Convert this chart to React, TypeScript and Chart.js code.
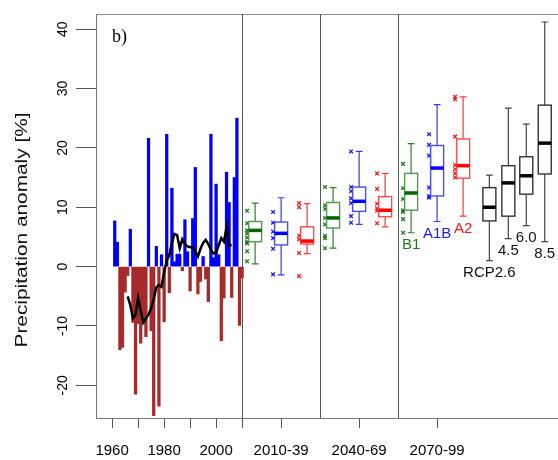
import React, { useEffect, useRef } from 'react';
import { Chart, registerables } from 'chart.js';

Chart.register(...registerables);

// ---------- data ----------
const years = [
  1961, 1962, 1963, 1964, 1965, 1966, 1967, 1968, 1969, 1970,
  1971, 1972, 1973, 1974, 1975, 1976, 1977, 1978, 1979, 1980,
  1981, 1982, 1983, 1984, 1985, 1986, 1987, 1988, 1989, 1990,
  1991, 1992, 1993, 1994, 1995, 1996, 1997, 1998, 1999, 2000,
  2001, 2002, 2003, 2004, 2005, 2006, 2007, 2008, 2009, 2010,
];
const anomaly = [
  7.7, 4.1, -14.0, -13.6, -4.3, -1.5, 6.3, -9.4, -21.5, -9.6,
  -12.9, -9.6, -11.8, 21.6, -10.8, -25.1, 3.4, -23.5, 2.0, -9.3,
  22.3, -4.4, 13.2, 0.8, 2.1, 2.1, -0.7, 7.9, 2.5, -4.1,
  8.1, 16.7, -4.6, -2.5, 1.7, -2.1, -5.9, 22.3, 1.5, 13.9,
  2.0, -12.5, -5.3, 15.9, 10.8, -5.2, 15.0, 25.0, -9.9, -1.9,
];
const meanYears = [
  1966, 1967, 1968, 1969, 1970, 1971, 1972, 1973, 1974, 1975,
  1976, 1977, 1978, 1979, 1980, 1981, 1982, 1983, 1984, 1985,
  1986, 1987, 1988, 1989, 1990, 1991, 1992, 1993, 1994, 1995,
  1996, 1997, 1998, 1999, 2000, 2001, 2002, 2003, 2004, 2005, 2006,
];
const runningMean = [
  -5.0, -6.5, -8.7, -8.1, -5.3, -7.5, -9.4, -8.7, -8.1, -7.0,
  -5.5, -3.5, -3.1, -3.4, -1.0, 1.0, 2.0, 4.0, 5.5, 5.3,
  3.1, 4.6, 3.8, 3.4, 3.3, 3.1, 2.6, 1.7, 3.0, 4.0,
  4.5, 3.8, 2.8, 2.2, 2.4, 3.6, 4.8, 4.2, 6.6, 3.6, 3.6,
];

const periods = ['2010-39', '2040-69', '2070-99'];
const periodCenters = [2025, 2055, 2085];
const periodBounds = [2010, 2040, 2070];

const histTickYears = [1960, 1970, 1980, 1990, 2000, 2010];
const histTickLabels = ['1960', '', '1980', '', '2000', ''];
const yTicks = [-20, -10, 0, 10, 20, 30, 40];

const scenarios = ['B1', 'A1B', 'A2'];
// [lower whisker, q1, median, q3, upper whisker] per period
const b1Stats = [
  [0.45, 4.2, 6.1, 7.6, 10.7],
  [3.1, 6.5, 8.2, 10.8, 13.3],
  [5.7, 9.5, 12.4, 15.7, 20.7],
];
const a1bStats = [
  [-1.4, 3.65, 5.6, 7.5, 11.6],
  [7.1, 9.3, 11.0, 13.4, 19.4],
  [7.6, 11.9, 16.6, 20.4, 27.3],
];
const a2Stats = [
  [2.2, 3.8, 4.3, 6.7, 10.6],
  [6.7, 8.4, 9.5, 11.8, 15.7],
  [8.5, 14.9, 17.0, 21.5, 28.6],
];
const b1Points = [
  [9.4, 7.3, 6.1, 5.6, 4.9, 4.2, 3.9, 2.6, 0.9],
  [13.4, 10.3, 9.7, 8.2, 7.1, 5.2, 4.8, 3.1],
  [17.3, 13.2, 11.4, 9.5, 9.2, 8.0, 5.7],
];
const a1bPoints = [
  [9.2, 7.4, 5.9, 4.8, 3.0, -1.3],
  [19.4, 13.4, 12.7, 11.5, 10.7, 8.5, 7.4],
  [22.3, 20.5, 18.7, 13.3, 11.9, 11.6],
];
const a2Points = [
  [10.7, 10.0, 5.2, 4.6, 2.3, -1.6],
  [15.7, 13.1, 10.6, 9.8, 9.4, 7.3],
  [28.6, 28.2, 21.9, 17.1, 16.4, 15.7, 15.0],
];
const rcpLabels = ['RCP2.6', '4.5', '6.0', '8.5'];
const rcpStats = [
  [1.0, 7.7, 10.0, 13.3, 15.4],
  [4.7, 8.5, 14.1, 17.0, 26.7],
  [6.9, 12.2, 15.3, 18.5, 24.0],
  [4.2, 15.6, 20.8, 27.2, 41.2],
];

// ---------- layout / style ----------
const SCEN_OFFSET = [-10, 0, 10]; // years from period centre
const RCP_OFFSET = [20.1, 27.4, 34.3, 41.4]; // years from last period centre
const BOX_HALF = 2.5;
const CAP_HALF = 1.3;
const POINT_SHIFT = -3.1;
const SCEN_STYLE = [
  { main: '#006400', box: '#4c9a4c', whisk: '#2f7f2f', pt: '#1f7a1f', label: '#1f7a1f' },
  { main: '#0000ff', box: '#4a4aff', whisk: '#3838ff', pt: '#2020ee', label: '#1a1aff' },
  { main: '#ff0000', box: '#ff4a4a', whisk: '#ff3838', pt: '#ee2020', label: '#ff1a1a' },
];
const RCP_STYLE = { main: '#000000', box: '#333333', whisk: '#444444', label: '#111111' };
const FONT = '"Liberation Sans", Arial, sans-serif';

const allStats = [b1Stats, a1bStats, a2Stats];
const allPoints = [b1Points, a1bPoints, a2Points];

function drawBox(chart: any, xv: number, s: number[], st: any) {
  const ctx = chart.ctx;
  const xs = chart.scales.x;
  const ys = chart.scales.y;
  const cx = xs.getPixelForValue(xv);
  const l = xs.getPixelForValue(xv - BOX_HALF);
  const r = xs.getPixelForValue(xv + BOX_HALF);
  const cl = xs.getPixelForValue(xv - CAP_HALF);
  const cr = xs.getPixelForValue(xv + CAP_HALF);
  const [lo, q1, med, q3, hi] = s.map((v) => ys.getPixelForValue(v));
  ctx.save();
  ctx.lineWidth = 1.2;
  ctx.strokeStyle = st.whisk;
  ctx.beginPath();
  ctx.moveTo(cx, q3);
  ctx.lineTo(cx, hi);
  ctx.moveTo(cx, q1);
  ctx.lineTo(cx, lo);
  ctx.moveTo(cl, hi);
  ctx.lineTo(cr, hi);
  ctx.moveTo(cl, lo);
  ctx.lineTo(cr, lo);
  ctx.stroke();
  ctx.fillStyle = '#ffffff';
  ctx.fillRect(l, q3, r - l, q1 - q3);
  ctx.lineWidth = 1.4;
  ctx.strokeStyle = st.box;
  ctx.strokeRect(l, q3, r - l, q1 - q3);
  ctx.lineWidth = 3.5;
  ctx.strokeStyle = st.main;
  ctx.beginPath();
  ctx.moveTo(l, med);
  ctx.lineTo(r, med);
  ctx.stroke();
  ctx.restore();
}

function drawLabel(chart: any, xv: number, lowVal: number, text: string, color: string) {
  const ctx = chart.ctx;
  const x = chart.scales.x.getPixelForValue(xv);
  const y = chart.scales.y.getPixelForValue(lowVal) + 12.5;
  ctx.save();
  ctx.font = `15px ${FONT}`;
  ctx.fillStyle = color;
  ctx.textAlign = 'center';
  ctx.textBaseline = 'middle';
  ctx.fillText(text, x, y);
  ctx.restore();
}

const decorPlugin = {
  id: 'decor',
  beforeDatasetsDraw(chart: any) {
    const { ctx, chartArea } = chart;
    const xs = chart.scales.x;
    ctx.save();
    ctx.lineWidth = 1;
    ctx.strokeStyle = '#888888';
    ctx.beginPath();
    ctx.moveTo(chartArea.left, chartArea.top + 0.5);
    ctx.lineTo(chartArea.right, chartArea.top + 0.5);
    ctx.stroke();
    ctx.strokeStyle = '#555555';
    periodBounds.forEach((b) => {
      const x = Math.round(xs.getPixelForValue(b)) + 0.5;
      ctx.beginPath();
      ctx.moveTo(x, chartArea.top);
      ctx.lineTo(x, chartArea.bottom);
      ctx.stroke();
    });
    ctx.restore();
  },
  afterDatasetsDraw(chart: any) {
    periodCenters.forEach((c, p) => {
      scenarios.forEach((name, k) => {
        drawBox(chart, c + SCEN_OFFSET[k], allStats[k][p], SCEN_STYLE[k]);
        if (p === periodCenters.length - 1) {
          drawLabel(chart, c + SCEN_OFFSET[k], allStats[k][p][0], name, SCEN_STYLE[k].label);
        }
      });
    });
    const last = periodCenters[periodCenters.length - 1];
    rcpStats.forEach((s, i) => {
      drawBox(chart, last + RCP_OFFSET[i], s, RCP_STYLE);
      drawLabel(chart, last + RCP_OFFSET[i], s[0], rcpLabels[i], RCP_STYLE.label);
    });
  },
  afterDraw(chart: any) {
    const ctx = chart.ctx;
    const ys = chart.scales.y;
    ctx.save();
    ctx.fillStyle = '#000000';
    ctx.font = `14px ${FONT}`;
    ctx.textAlign = 'center';
    ctx.textBaseline = 'middle';
    yTicks.forEach((v) => {
      const y = ys.getPixelForValue(v);
      ctx.save();
      ctx.translate(63, y);
      ctx.rotate(-Math.PI / 2);
      ctx.fillText(String(v), 0, 0);
      ctx.restore();
    });
    // axis title
    ctx.save();
    ctx.font = `16px ${FONT}`;
    ctx.fillStyle = '#111111';
    ctx.translate(23, 230);
    ctx.rotate(-Math.PI / 2);
    const w = ctx.measureText('Precipitation anomaly [%]').width;
    ctx.scale(235 / w, 1);
    ctx.fillText('Precipitation anomaly [%]', 0, 0);
    ctx.restore();
    // panel tag
    ctx.font = '18px "Liberation Serif", "DejaVu Serif", serif';
    ctx.textAlign = 'left';
    ctx.textBaseline = 'alphabetic';
    ctx.fillStyle = '#000000';
    ctx.fillText('b)', 112, 42);
    ctx.restore();
  },
};

export default function App() {
  const ref = useRef<HTMLCanvasElement | null>(null);

  useEffect(() => {
    if (!ref.current) return;
    const xTickValues = [...histTickYears, ...periodCenters];
    const xTickText = [...histTickLabels, ...periods];

    const pointSets = scenarios.map((name, k) => ({
      type: 'line' as const,
      label: name + ' members',
      showLine: false,
      order: 1,
      data: periodCenters.flatMap((c, p) =>
        allPoints[k][p].map((v) => ({ x: c + SCEN_OFFSET[k] + POINT_SHIFT, y: v }))
      ),
      pointStyle: 'crossRot',
      pointRadius: 2.6,
      pointBorderWidth: 1.3,
      borderColor: SCEN_STYLE[k].pt,
      backgroundColor: SCEN_STYLE[k].pt,
    }));

    const chart = new Chart(ref.current, {
      type: 'bar',
      data: {
        datasets: [
          {
            type: 'line',
            label: 'running mean',
            order: 0,
            data: meanYears.map((y, i) => ({ x: y, y: runningMean[i] })),
            borderColor: '#000000',
            borderWidth: 2.5,
            pointRadius: 0,
            tension: 0,
          },
          ...pointSets,
          {
            type: 'bar',
            label: 'anomaly',
            order: 2,
            data: years.map((y, i) => ({ x: y, y: anomaly[i] })),
            backgroundColor: anomaly.map((v) => (v >= 0 ? '#0000ff' : '#a52a2a')),
            barPercentage: 1,
            categoryPercentage: 1,
            borderWidth: 0,
          },
        ] as any,
      },
      options: {
        animation: false,
        responsive: false,
        devicePixelRatio: 1,
        layout: { autoPadding: false, padding: { top: 14, left: 0, right: 0, bottom: 0 } },
        plugins: { legend: { display: false }, tooltip: { enabled: false } },
        scales: {
          x: {
            type: 'linear',
            offset: false,
            min: 1953.8,
            max: 2131.5,
            afterBuildTicks: (s: any) => {
              s.ticks = xTickValues.map((v) => ({ value: v }));
            },
            afterFit: (s: any) => {
              s.height = 42;
            },
            grid: { drawOnChartArea: false, drawTicks: true, tickLength: 10, color: '#555555', offset: false },
            border: { display: true, color: '#777777' },
            ticks: {
              autoSkip: false,
              maxRotation: 0,
              minRotation: 0,
              padding: 14,
              color: '#000000',
              font: { size: 15, family: FONT },
              callback: (v: any) => {
                const i = xTickValues.indexOf(Number(v));
                return i >= 0 ? xTickText[i] : '';
              },
            },
          },
          y: {
            type: 'linear',
            min: -25.5,
            max: 42.55,
            afterBuildTicks: (s: any) => {
              s.ticks = yTicks.map((v) => ({ value: v }));
            },
            afterFit: (s: any) => {
              s.width = 96;
            },
            grid: { drawOnChartArea: false, drawTicks: true, tickLength: 20, color: '#555555' },
            border: { display: true, color: '#777777' },
            ticks: { padding: 0, callback: () => '' },
          },
        },
      } as any,
      plugins: [decorPlugin],
    });
    return () => chart.destroy();
  }, []);

  return (
    <div style={{ position: 'fixed', left: 0, top: 0, width: 558, height: 460, background: '#ffffff' }}>
      <canvas ref={ref} width={558} height={460} style={{ width: 558, height: 460, display: 'block' }} />
    </div>
  );
}
